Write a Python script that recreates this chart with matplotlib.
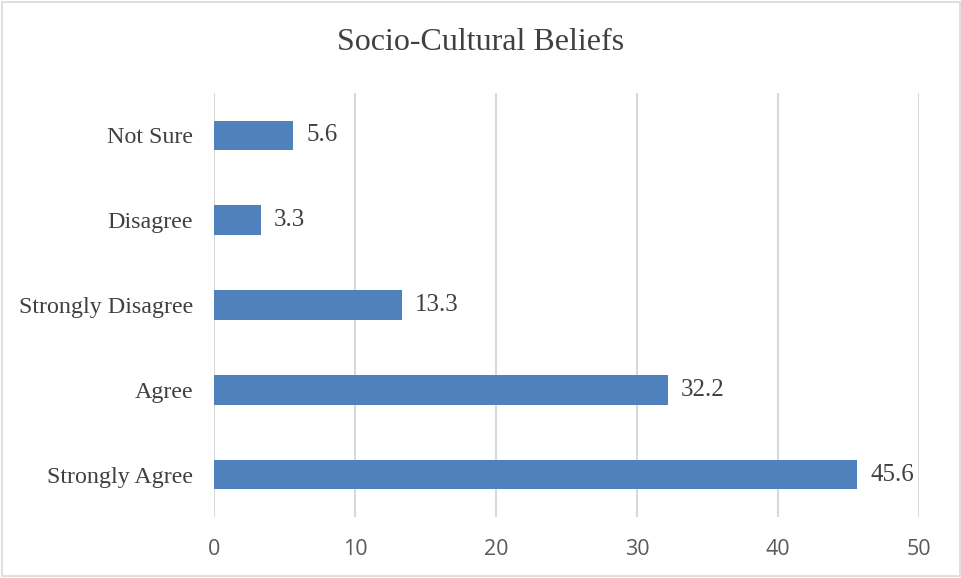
import matplotlib
matplotlib.use("Agg")
import matplotlib.pyplot as plt
from matplotlib.patches import Rectangle

categories = ["Strongly Agree", "Agree", "Strongly Disagree", "Disagree", "Not Sure"]
values = [45.6, 32.2, 13.3, 3.3, 5.6]
xticks = [0, 10, 20, 30, 40, 50]
title = "Socio-Cultural Beliefs"

fig = plt.figure(figsize=(9.62, 5.78), dpi=100)
ax = fig.add_axes([214/962, 1-517/578, (919-214)/962, (517-93)/578])

bar_color = "#4F81BD"
text_color = "#404040"
serif = ["Liberation Serif", "DejaVu Serif"]

y = list(range(len(categories)))
ax.barh(y, values, height=0.35, color=bar_color, zorder=3)
for yi, v in zip(y, values):
    ax.annotate(f"{v}", xy=(v, yi), xytext=(9.5, 0), textcoords="offset points",
                va="center", ha="left", fontsize=18, family=serif, color=text_color)

ax.set_xlim(0, 50)
ax.set_ylim(-0.5, len(categories) - 0.5)
ax.set_xticks(xticks)
ax.set_xticklabels([str(t) for t in xticks], fontsize=15.5, color="#595959",
                   family=["Open Sans", "DejaVu Sans"])
ax.set_yticks(y)
ax.set_yticklabels(categories, fontsize=17.3, family=serif, color=text_color)
ax.tick_params(axis="both", length=0)
ax.tick_params(axis="x", pad=16)
ax.tick_params(axis="y", pad=15)
ax.grid(axis="x", color="#D9D9D9", linewidth=1.5, zorder=0)
for s in ax.spines.values():
    s.set_visible(False)

fig.text(0.5, 1-43/578, title, ha="center", va="center", fontsize=23,
         family=serif, color=text_color)

fig.patches.append(Rectangle((0.002, 0.003), 0.996, 0.994, transform=fig.transFigure,
                             fill=False, edgecolor="#D9D9D9", linewidth=1.2))

fig.savefig("out.png", dpi=100)
